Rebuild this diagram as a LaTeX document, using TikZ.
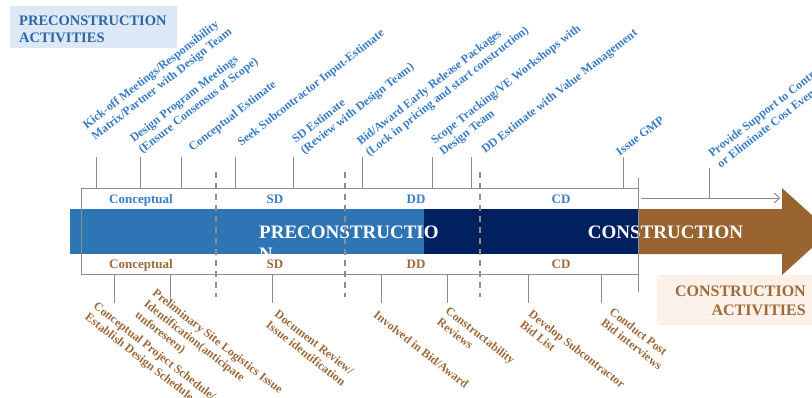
\documentclass[tikz,border=0pt]{standalone}
\usepackage{fontspec}
\setmainfont{Liberation Serif}
\usetikzlibrary{arrows.meta}
\definecolor{bandblue}{HTML}{2E75B6}
\definecolor{navy}{HTML}{002060}
\definecolor{brownarrow}{HTML}{9A6431}
\definecolor{labelblue}{HTML}{3A7DC6}
\definecolor{titleblue}{HTML}{2C66A6}
\definecolor{labelbrown}{HTML}{9E6A39}
\definecolor{titlebox}{HTML}{DCE8F5}
\definecolor{peach}{HTML}{FBF1E9}
\definecolor{linegray}{HTML}{8C8C8C}
\begin{document}
\begin{tikzpicture}[x=1pt,y=-1pt,
  tick/.style={draw=linegray, line width=1pt},
  phasedash/.style={draw=linegray, line width=1.2pt, dash pattern=on 6pt off 5pt},
  uplabel/.style={rotate=38, anchor=south west, inner sep=0pt, align=left, text=labelblue, font=\bfseries\fontsize{12}{14}\selectfont},
  lowlabel/.style={rotate=-38, anchor=north west, inner sep=0pt, align=left, text=labelbrown, font=\bfseries\fontsize{12}{14}\selectfont},
  phaseup/.style={anchor=base, inner sep=0pt, text=labelblue, font=\bfseries\fontsize{13}{15}\selectfont},
  phaselow/.style={anchor=base, inner sep=0pt, text=labelbrown, font=\bfseries\fontsize{13}{15}\selectfont},
  bandtext/.style={inner sep=0pt, text=white, font=\bfseries\fontsize{19}{22}\selectfont},
  titletext/.style={inner sep=0pt, text=titleblue, font=\bfseries\fontsize{14.5}{17}\selectfont},
  constext/.style={anchor=base east, inner sep=0pt, text=labelbrown, font=\bfseries\fontsize{16}{19}\selectfont}
]
\useasboundingbox (0,0) rectangle (812,397);
\clip (0,0) rectangle (812,397);

% title box
\fill[titlebox] (10,6) rectangle (177,48);
\node[titletext, anchor=base west] (t1) at (19,25) {PRECONSTRUCTION};
\node[titletext, anchor=base west] (t2) at (19,42) {ACTIVITIES};

% construction activities box
\fill[peach] (657,275) rectangle (812,325);
\node[constext] (c1) at (806,296) {CONSTRUCTION};
\node[constext] (c2) at (806,315) {ACTIVITIES};

% band
\fill[bandblue] (70,209) rectangle (424,254);
\fill[navy] (424,209) rectangle (638,254);
\fill[brownarrow] (638,209) -- (782,209) -- (782,188) -- (830,231.5) -- (782,275) -- (782,254) -- (638,254) -- cycle;

\node[bandtext, anchor=base west] (pre) at (259,238) {PRECONSTRUCTIO};
\begin{scope}
  \clip (70,209) rectangle (638,254);
  \node[bandtext, anchor=base west] (pren) at (259,260) {N};
\end{scope}
\node[bandtext, anchor=base] (con) at (665.5,238) {CONSTRUCTION};

% outline
\draw[linegray, line width=0.8pt] (81,188) -- (638,188);
\draw[linegray, line width=0.8pt] (81,274) -- (638,274);
\draw[linegray, line width=0.8pt] (81,188) -- (81,274);
\draw[linegray, line width=0.8pt] (638,178) -- (638,292);

% dashed phase separators
\foreach \x in {216,345,480} \draw[phasedash] (\x,172) -- (\x,297);

% upper ticks
\foreach \x in {96,140,181,235,293,362,432,471,623} \draw[tick] (\x,157) -- (\x,188);
\draw[tick] (709,168) -- (709,198);
\draw[linegray, line width=1pt, -{Straight Barb[length=5pt,width=10pt]}] (641,198) -- (780,198);

% lower ticks
\foreach \x in {114,170,272,381,447,528,601} \draw[tick] (\x,274) -- (\x,303);

% phase labels
\node[phaseup] (pu1) at (141,203) {Conceptual};
\node[phaseup] (pu2) at (275,203) {SD};
\node[phaseup] (pu3) at (416,203) {DD};
\node[phaseup] (pu4) at (561,203) {CD};
\node[phaselow] (pl1) at (141,268) {Conceptual};
\node[phaselow] (pl2) at (275,268) {SD};
\node[phaselow] (pl3) at (416,268) {DD};
\node[phaselow] (pl4) at (561,268) {CD};

% upper labels
\node[uplabel] (u1) at (97,143) {Kick-off Meetings/Responsibility\\Matrix/Partner with Design Team};
\node[uplabel] (u2) at (144,156) {Design Program Meetings\\(Ensure Consensus of Scope)};
\node[uplabel] (u3) at (194,154) {Conceptual Estimate};
\node[uplabel] (u4) at (243,149) {Seek Subcontractor Input-Estimate};
\node[uplabel] (u5) at (306,157) {SD Estimate\\(Review with Design Team)};
\node[uplabel] (u6) at (371,159) {Bid/Award Early Release Packages\\(Lock in pricing and start construction)};
\node[uplabel] (u7) at (445,158) {Scope Tracking/VE Workshops with\\Design Team};
\node[uplabel] (u8) at (487,156) {DD Estimate with Value Management};
\node[uplabel] (u9) at (620,157) {Issue GMP};
\node[uplabel] (u10) at (721,169) {Provide Support to Control\\or Eliminate Cost Events};

% lower labels
\node[lowlabel] (l1) at (98,301) {Conceptual Project Schedule/\\Establish Design Schedule};
\node[lowlabel] (l2) at (157,288) {Preliminary Site Logistics Issue\\Identification(anticipate\\unforeseen)};
\node[lowlabel] (l3) at (279,309) {Document Review/\\Issue identification};
\node[lowlabel] (l4) at (378,310) {Involved in Bid/Award};
\node[lowlabel] (l5) at (450,306) {Constructability\\Reviews};
\node[lowlabel] (l6) at (533,309) {Develop Subcontractor\\Bid List};
\node[lowlabel] (l7) at (614,307) {Conduct Post\\Bid interviews};
\end{tikzpicture}
\end{document}
